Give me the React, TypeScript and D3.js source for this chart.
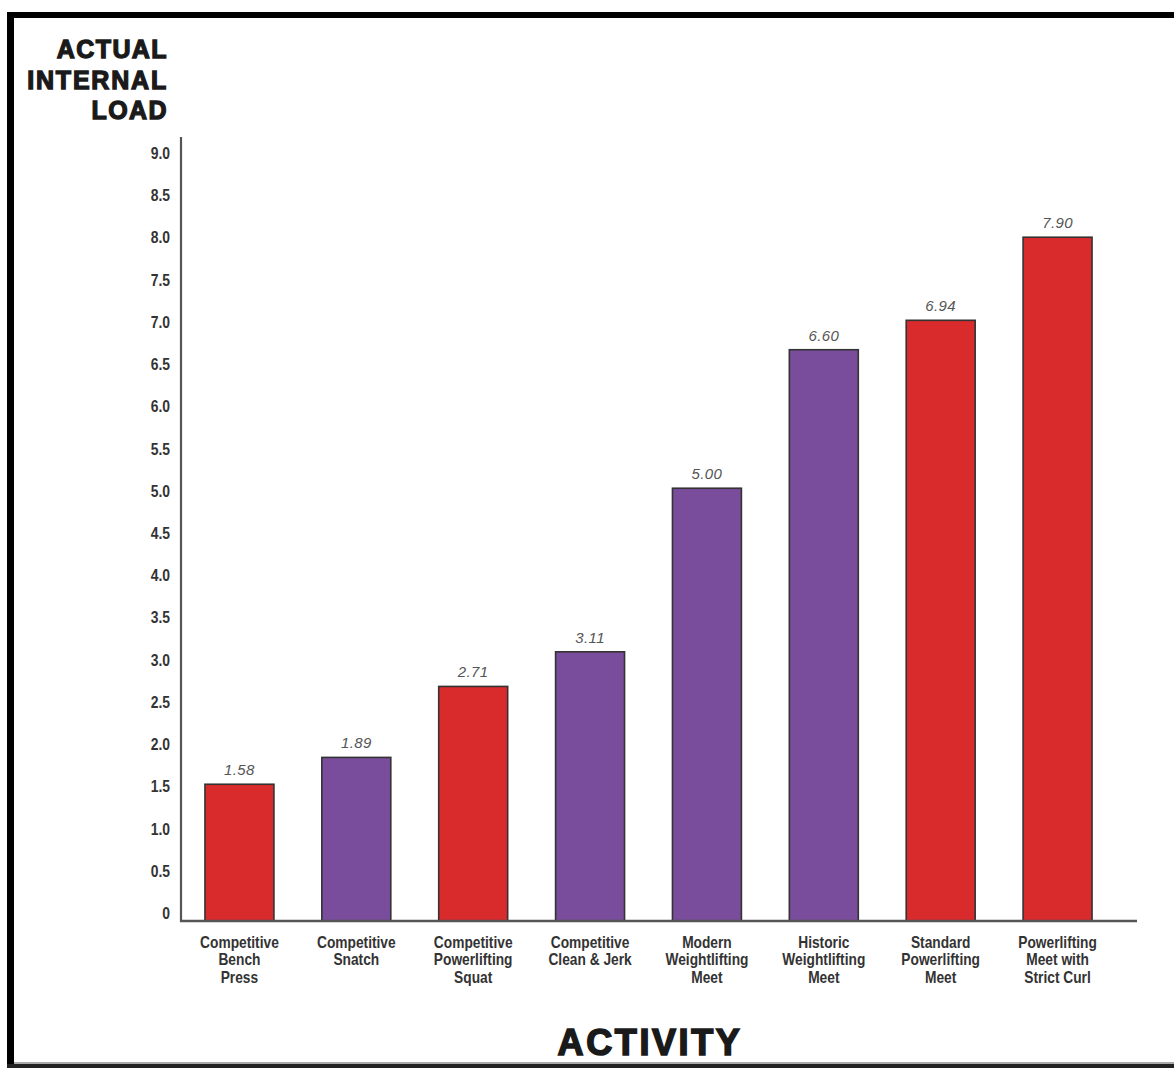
import React from "react";
import * as d3 from "d3";

const categories: string[] = [
  "Competitive\nBench\nPress",
  "Competitive\nSnatch",
  "Competitive\nPowerlifting\nSquat",
  "Competitive\nClean & Jerk",
  "Modern\nWeightlifting\nMeet",
  "Historic\nWeightlifting\nMeet",
  "Standard\nPowerlifting\nMeet",
  "Powerlifting\nMeet with\nStrict Curl",
];
const values: number[] = [1.58, 1.89, 2.71, 3.11, 5.0, 6.6, 6.94, 7.9];
const valueLabels: string[] = ["1.58", "1.89", "2.71", "3.11", "5.00", "6.60", "6.94", "7.90"];
const groups: string[] = ["power", "weight", "power", "weight", "weight", "weight", "power", "power"];
const yTicks: number[] = d3.range(0, 9.01, 0.5);
const yTickLabels: string[] = yTicks.map((t) => (t === 0 ? "0" : t.toFixed(1)));
const titleLines: string[] = ["ACTUAL", "INTERNAL", "LOAD"];
const xTitle = "ACTIVITY";

const W = 1174;
const H = 1068;
const axisX = 181;
const axisY = 921;

export default function App() {
  const x = d3
    .scaleBand<number>()
    .domain(d3.range(categories.length))
    .range([axisX, 1116])
    .paddingInner(0.41)
    .paddingOuter(0.205);
  const y = d3.scaleLinear().domain([0, 9]).range([axisY, 142]);
  const yLab = d3.scaleLinear().domain([0, 9]).range([913, 153]);
  const color = d3
    .scaleOrdinal<string, string>()
    .domain(["power", "weight"])
    .range(["#d92a2c", "#794c9c"]);

  const sans = "'Liberation Sans', Arial, Helvetica, sans-serif";

  return (
    <svg
      width={W}
      height={H}
      style={{ position: "absolute", left: 0, top: 0, background: "#fff" }}
    >
      <rect x={0} y={0} width={W} height={H} fill="#fff" />
      {/* frame */}
      <rect x={7} y={12} width={W - 7} height={6} fill="#000" />
      <rect x={7} y={12} width={7} height={H - 12} fill="#000" />
      <rect x={7} y={1064} width={W - 7} height={4} fill="#222" />
      <rect x={14} y={1062} width={W - 14} height={2} fill="#aaa" />

      {/* y title */}
      {titleLines.map((t, i) => (
        <text
          key={t}
          x={168}
          y={58 + i * 30.5}
          textAnchor="end"
          fontFamily={sans}
          fontWeight="bold"
          fontSize={25}
          fill="#1a1a1a"
          stroke="#1a1a1a"
          strokeWidth={1.3}
          letterSpacing={i === 1 ? 1.8 : 1.4}
        >
          {t}
        </text>
      ))}

      {/* y ticks */}
      {yTicks.map((t, i) => (
        <text
          key={t}
          transform={`translate(170,${yLab(t)}) scale(0.82,1)`}
          dy="0.35em"
          textAnchor="end"
          fontFamily={sans}
          fontWeight="bold"
          fontSize={17}
          fill="#333"
        >
          {yTickLabels[i]}
        </text>
      ))}

      {/* bars */}
      {values.map((v, i) => (
        <g key={i}>
          <rect
            x={x(i)!}
            y={y(v)}
            width={x.bandwidth()}
            height={axisY - y(v)}
            fill={color(groups[i])}
            stroke="#333"
            strokeWidth={1.6}
          />
          <text
            x={x(i)! + x.bandwidth() / 2}
            y={y(v) - 9}
            textAnchor="middle"
            fontFamily={sans}
            fontStyle="italic"
            fontSize={15}
            fill="#555"
            letterSpacing={0.4}
          >
            {valueLabels[i]}
          </text>
        </g>
      ))}

      {/* axes */}
      <line x1={axisX} y1={137} x2={axisX} y2={axisY + 1} stroke="#555" strokeWidth={2.2} />
      <line x1={axisX - 1} y1={axisY} x2={1137} y2={axisY} stroke="#555" strokeWidth={2.5} />

      {/* category labels */}
      {categories.map((c, i) => (
        <text
          key={i}
          transform={`translate(${x(i)! + x.bandwidth() / 2},948) scale(0.86,1)`}
          textAnchor="middle"
          fontFamily={sans}
          fontWeight="bold"
          fontSize={16}
          fill="#333"
        >
          {c.split("\n").map((line, j) => (
            <tspan key={j} x={0} dy={j === 0 ? 0 : 17.5}>
              {line}
            </tspan>
          ))}
        </text>
      ))}

      {/* x title */}
      <text
        x={650}
        y={1055}
        textAnchor="middle"
        fontFamily={sans}
        fontWeight="bold"
        fontSize={36}
        fill="#1a1a1a"
        stroke="#1a1a1a"
        strokeWidth={1.6}
        letterSpacing={2.6}
      >
        {xTitle}
      </text>
    </svg>
  );
}
